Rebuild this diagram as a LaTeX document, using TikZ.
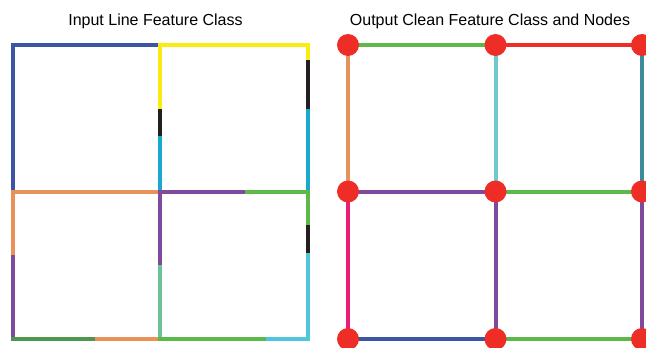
\documentclass[tikz,border=0pt]{standalone}
\usepackage{fontspec}
\setmainfont{Liberation Sans}
\definecolor{cblue}{HTML}{3C55A5}
\definecolor{cyellow}{HTML}{FBEC10}
\definecolor{cblack}{HTML}{231F20}
\definecolor{ccyan}{HTML}{1BA8CE}
\definecolor{clcyan}{HTML}{50C6DA}
\definecolor{corange}{HTML}{E8925A}
\definecolor{cpurple}{HTML}{7F4A9D}
\definecolor{cgreen}{HTML}{5DB84A}
\definecolor{cdgreen}{HTML}{4E9650}
\definecolor{cmint}{HTML}{6DC29A}
\definecolor{caqua}{HTML}{6CCACF}
\definecolor{cteal}{HTML}{3B8B9B}
\definecolor{cred}{HTML}{EE2D27}
\definecolor{cpink}{HTML}{EC1C79}
\pgfdeclarelayer{edges}
\pgfsetlayers{edges,main}
\tikzset{
  seg/.style={line width=4pt, line cap=rect},
  edge/.style={line width=4pt},
  vertex/.style={circle, fill=cred, inner sep=0pt, minimum size=22pt},
  title/.style={font=\fontsize{16}{19}\selectfont, anchor=base, inner sep=0pt}
}
\begin{document}
\begin{tikzpicture}[x=1pt, y=-1pt]
\useasboundingbox (0,0) rectangle (646,348);
\clip (0,0) rectangle (646,348);

% titles
\node[title] (tin) at (155.5,25.5) {Input Line Feature Class};
\node[title] (tout) at (490,25.5) {Output Clean Feature Class and Nodes};

% ---- input polylines: grid corners and split points ----
\coordinate (a00) at (13,45);   \coordinate (a10) at (160,45);   \coordinate (a20) at (307.5,45);
\coordinate (a01) at (13,191.5);\coordinate (a11) at (160,191.5);\coordinate (a21) at (307.5,191.5);
\coordinate (a02) at (13,339);  \coordinate (a12) at (160,339);  \coordinate (a22) at (307.5,339);
% split points
\coordinate (tb) at (75,45);
\coordinate (lb) at (13,104);
\coordinate (m1) at (160,111);  \coordinate (m2) at (160,138);
\coordinate (r1) at (307.5,62); \coordinate (r2) at (307.5,111);
\coordinate (h1) at (243,191.5);
\coordinate (l1) at (13,257);
\coordinate (m3) at (160,263);
\coordinate (r3) at (307.5,223);\coordinate (r4) at (307.5,251);
\coordinate (b1) at (97,339);   \coordinate (b2) at (268,339);

% upper-left cell
\draw[seg, cblue] (lb) -- (a00) -- (tb);
\draw[seg, cblue] (tb) -- (a10);
\draw[seg, cblue] (lb) -- (a01);
% upper-right cell
\draw[seg, cyellow] (m1) -- (a10) -- (a20) -- (r1);
\draw[seg, cblack] (m1) -- (m2);
\draw[seg, ccyan] (m2) -- (a11);
\draw[seg, cblack] (r1) -- (r2);
\draw[seg, ccyan] (r2) -- (a21);
% lower-left cell
\draw[seg, corange] (a11) -- (a01) -- (l1);
\draw[seg, cpurple] (l1) -- (a02);
\draw[seg, cdgreen] (a02) -- (b1);
\draw[seg, corange] (b1) -- (a12);
% lower-right cell
\draw[seg, cmint] (m3) -- (a12);
\draw[seg, cgreen] (a12) -- (b2);
\draw[seg, clcyan] (r4) -- (a22) -- (b2);
\draw[seg, cblack] (r3) -- (r4);
\draw[seg, cgreen] (h1) -- (a21) -- (r3);
\draw[seg, cpurple] (h1) -- (a11) -- (m3);

% ---- output network ----
\node[vertex] (n00) at (348,45) {};
\node[vertex] (n10) at (495.5,45) {};
\node[vertex] (n20) at (642,45) {};
\node[vertex] (n01) at (348,191.5) {};
\node[vertex] (n11) at (495.5,191.5) {};
\node[vertex] (n21) at (642,191.5) {};
\node[vertex] (n02) at (348,339) {};
\node[vertex] (n12) at (495.5,339) {};
\node[vertex] (n22) at (642,339) {};

% edges sit beneath the vertices
\begin{pgfonlayer}{edges}
\draw[edge, cgreen]  (n00.center) -- (n10.center);
\draw[edge, cred]    (n10.center) -- (n20.center);
\draw[edge, corange] (n00.center) -- (n01.center);
\draw[edge, caqua]   (n10.center) -- (n11.center);
\draw[edge, cteal]   (n20.center) -- (n21.center);
\draw[edge, cpurple] (n01.center) -- (n11.center);
\draw[edge, cgreen]  (n11.center) -- (n21.center);
\draw[edge, cpink]   (n01.center) -- (n02.center);
\draw[edge, cpurple] (n11.center) -- (n12.center);
\draw[edge, cpurple] (n21.center) -- (n22.center);
\draw[edge, cblue]   (n02.center) -- (n12.center);
\draw[edge, cgreen]  (n12.center) -- (n22.center);
\end{pgfonlayer}
\end{tikzpicture}
\end{document}
